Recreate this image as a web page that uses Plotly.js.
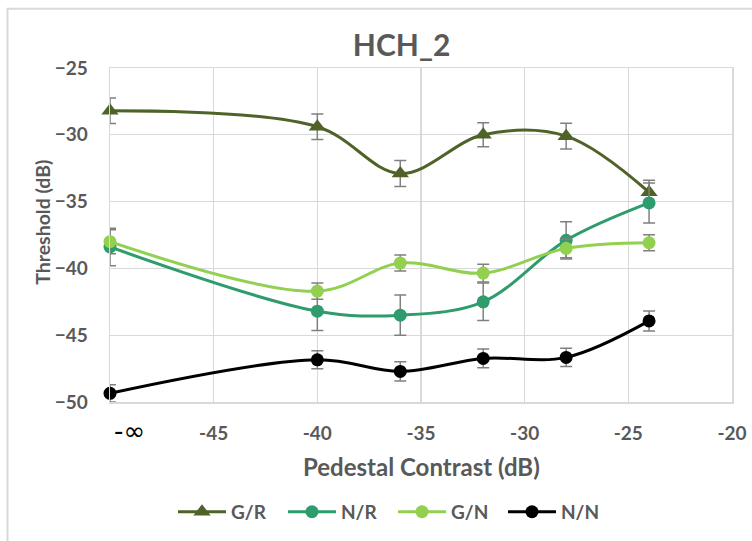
<!DOCTYPE html>
<html>
<head>
<meta charset="utf-8">
<script src="https://cdn.plot.ly/plotly-3.0.1.min.js"></script>
<style>html,body{margin:0;padding:0;background:#fff;}#chart{width:752px;height:541px;}</style>
</head>
<body>
<div id="chart"></div>
<script>
// Data
var pedestal = [-50, -40, -36, -32, -28, -24];   // -50 stands for -∞
var seriesNames = ["G/R", "N/R", "G/N", "N/N"];
var gr    = [-28.2, -29.4, -32.9, -30.0, -30.1, -34.3];
var grErr = [0.95, 0.95, 0.97, 0.9, 0.96, 0.9];
var nr    = [-38.4, -43.2, -43.5, -42.5, -37.9, -35.1];
var nrErr = [1.4, 1.45, 1.5, 1.4, 1.4, 1.5];
var gn    = [-38.0, -41.7, -39.6, -40.35, -38.5, -38.08];
var gnErr = [0.9, 0.6, 0.6, 0.66, 0.7, 0.6];
var nn    = [-49.35, -46.84, -47.71, -46.74, -46.66, -43.93];
var nnErr = [0.65, 0.68, 0.72, 0.7, 0.68, 0.75];
var xTicks = [-45, -40, -35, -30, -25, -20];
var yTicks = [-50, -45, -40, -35, -30, -25];

var colors = ["#4F6228", "#2E9C6C", "#92D050", "#000000"];
var ys = [gr, nr, gn, nn];
var errs = [grErr, nrErr, gnErr, nnErr];
var symbols = ["triangle-up", "circle", "circle", "circle"];
var sizes = [15, 13, 13, 13];
var legendIds = ["legend", "legend2", "legend3", "legend4"];
var legendX = [0.1013, 0.2781, 0.4550, 0.6318];

var traces = seriesNames.map(function (name, i) {
  return {
    x: pedestal, y: ys[i], name: name, type: "scatter", mode: "lines+markers",
    line: {color: colors[i], width: 3, shape: "spline", smoothing: 1},
    marker: {color: colors[i], symbol: symbols[i], size: sizes[i]},
    error_y: {type: "data", array: errs[i], visible: true, color: "#808080", thickness: 1.5, width: 6},
    cliponaxis: false, legend: legendIds[i]
  };
});

var grey = "#595959";
var tickFont = {family: "Lato, 'Open Sans', sans-serif", size: 19, color: grey, weight: "bold"};

var layout = {
  width: 752, height: 541,
  margin: {l: 110, r: 20, t: 68, b: 138},
  paper_bgcolor: "#ffffff", plot_bgcolor: "#ffffff",
  title: {text: "<b>HCH_2</b>", font: {family: "Lato, sans-serif", size: 30, color: grey}, x: 0.534, xanchor: "center", y: 0.915, yanchor: "middle"},
  xaxis: {
    range: [-50, -20], tickvals: xTicks, ticktext: xTicks.map(String),
    showgrid: true, gridcolor: "#d9d9d9", gridwidth: 1.2,
    showline: true, linecolor: "#d9d9d9", linewidth: 1.5, mirror: true,
    zeroline: false, ticks: "outside", ticklen: 14, tickcolor: "rgba(0,0,0,0)",
    tickfont: tickFont, fixedrange: true
  },
  yaxis: {
    range: [-50, -25], tickvals: yTicks,
    showgrid: true, gridcolor: "#d9d9d9", gridwidth: 1.2,
    showline: true, linecolor: "#d9d9d9", linewidth: 1.5, mirror: true,
    zeroline: false, ticks: "outside", ticklen: 17, tickcolor: "rgba(0,0,0,0)",
    tickfont: tickFont, fixedrange: true
  },
  showlegend: true,
  annotations: [
    {text: "-∞", xref: "paper", yref: "paper", x: 0.032, y: -0.087, xanchor: "center", yanchor: "middle",
     showarrow: false, font: {family: "'DejaVu Sans', sans-serif", size: 26, color: "#000000"}},
    {text: "<b>Pedestal Contrast (dB)</b>", xref: "paper", yref: "paper", x: 0.5, y: -0.193, xanchor: "center", yanchor: "middle",
     showarrow: false, font: {family: "Lato, sans-serif", size: 24, color: grey}},
    {text: "<b>Threshold (dB)</b>", xref: "paper", yref: "paper", x: -0.109, y: 0.537, xanchor: "center", yanchor: "middle",
     textangle: -90, showarrow: false, font: {family: "Lato, sans-serif", size: 19.5, color: grey}}
  ],
  shapes: [
    {type: "rect", xref: "paper", yref: "paper", x0: -0.1648, x1: 1.2, y0: -0.6, y1: 1.1776,
     line: {color: "#d9d9d9", width: 2}, fillcolor: "rgba(0,0,0,0)", layer: "below"}
  ]
};

legendIds.forEach(function (id, i) {
  layout[id] = {
    orientation: "h", x: legendX[i], xanchor: "left", y: -0.325, yanchor: "middle",
    font: {family: "Lato, sans-serif", size: 19, color: grey, weight: "bold"},
    itemwidth: 48, bgcolor: "rgba(0,0,0,0)"
  };
});

Plotly.newPlot("chart", traces, layout, {displayModeBar: false, staticPlot: true});
</script>
</body>
</html>
